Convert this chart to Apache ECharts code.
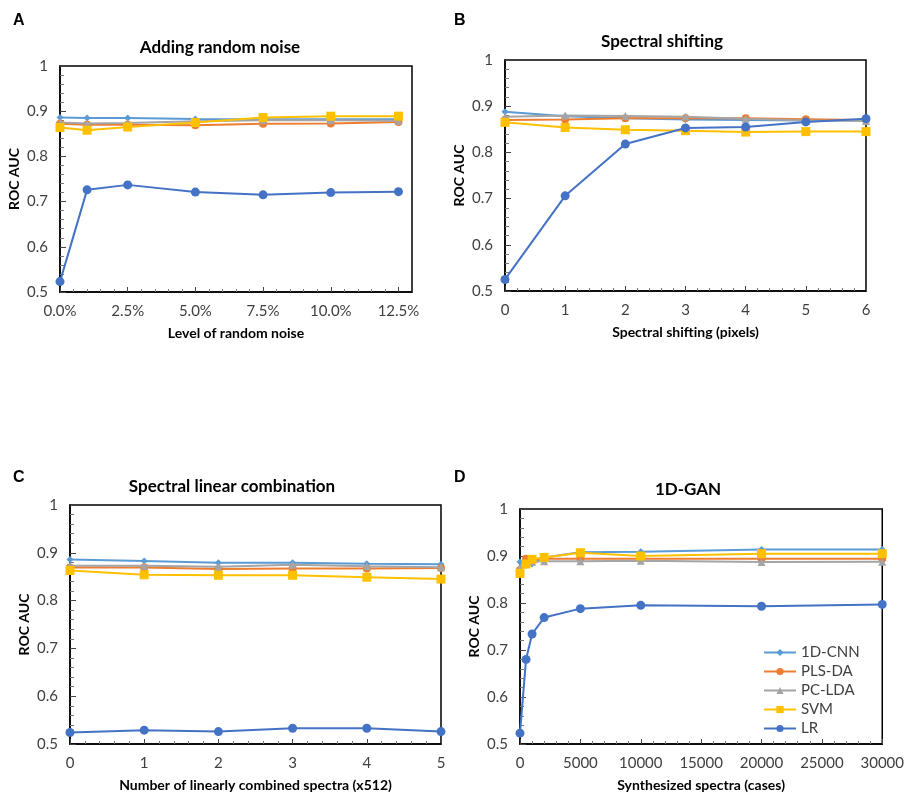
<!DOCTYPE html>
<html><head><meta charset="utf-8">
<script src="https://cdn.jsdelivr.net/npm/echarts@6/dist/echarts.min.js"></script>
<style>html,body{margin:0;padding:0;background:#fff}#c{width:907px;height:796px}</style>
</head><body><div id="c"></div>
<script>
const seriesNames = ['1D-CNN','PLS-DA','PC-LDA','SVM','LR'];
const colors = ['#5B9BD5','#ED7D31','#A5A5A5','#FFC000','#4472C4'];
const symbols = ['diamond','circle','triangle','rect','circle'];
const symbolSizes = [7,8,8,9,9];

// Panel A: adding random noise (x in %)
const A_x = [0,1,2.5,5,7.5,10,12.5];
const A_cnn = [0.886,0.885,0.885,0.883,0.882,0.882,0.882];
const A_pls = [0.872,0.870,0.870,0.869,0.872,0.873,0.876];
const A_pclda = [0.875,0.873,0.874,0.878,0.880,0.880,0.879];
const A_svm = [0.864,0.858,0.865,0.875,0.886,0.889,0.889];
const A_lr = [0.523,0.726,0.737,0.721,0.715,0.720,0.722];

// Panel B: spectral shifting (pixels)
const B_x = [0,1,2,3,4,5,6];
const B_cnn = [0.888,0.878,0.874,0.871,0.870,0.869,0.870];
const B_pls = [0.870,0.871,0.874,0.874,0.874,0.872,0.870];
const B_pclda = [0.877,0.880,0.879,0.877,0.873,0.869,0.868];
const B_svm = [0.865,0.854,0.849,0.847,0.844,0.845,0.845];
const B_lr = [0.525,0.706,0.818,0.853,0.855,0.866,0.873];

// Panel C: spectral linear combination
const C_x = [0,1,2,3,4,5];
const C_cnn = [0.886,0.883,0.879,0.879,0.877,0.876];
const C_pls = [0.869,0.869,0.866,0.867,0.867,0.868];
const C_pclda = [0.873,0.873,0.871,0.875,0.872,0.870];
const C_svm = [0.863,0.854,0.853,0.853,0.849,0.845];
const C_lr = [0.524,0.529,0.526,0.533,0.533,0.526];

// Panel D: 1D-GAN
const D_x = [0,500,1000,2000,5000,10000,20000,30000];
const D_cnn = [0.887,0.880,0.883,0.897,0.908,0.909,0.914,0.914];
const D_pls = [0.870,0.894,0.893,0.894,0.894,0.894,0.894,0.894];
const D_pclda = [0.875,0.885,0.888,0.889,0.889,0.890,0.887,0.888];
const D_svm = [0.863,0.883,0.893,0.897,0.907,0.900,0.905,0.905];
const D_lr = [0.523,0.680,0.734,0.769,0.788,0.795,0.793,0.797];

const panelTitles = ['Adding random noise','Spectral shifting','Spectral linear combination','1D-GAN'];
const xNames = ['Level of random noise','Spectral shifting (pixels)','Number of linearly combined spectra (x512)','Synthesized spectra (cases)'];
const yName = 'ROC AUC';
const panelLetters = ['A','B','C','D'];

const FONT = 'Lato';
const panels = [
  {x:A_x, ys:[A_cnn,A_pls,A_pclda,A_svm,A_lr], xmin:0, xmax:13, xint:2.5, grid:{left:60,top:66,width:352,height:226}, title:[220,39], fmt:v=> v>12.6?'':v.toFixed(1)+'%'},
  {x:B_x, ys:[B_cnn,B_pls,B_pclda,B_svm,B_lr], xmin:0, xmax:6, xint:1, grid:{left:505,top:60,width:361,height:231}, title:[662,33], fmt:v=>String(v)},
  {x:C_x, ys:[C_cnn,C_pls,C_pclda,C_svm,C_lr], xmin:0, xmax:5, xint:1, grid:{left:70,top:505,width:371,height:239}, title:[232,478], fmt:v=>String(v)},
  {x:D_x, ys:[D_cnn,D_pls,D_pclda,D_svm,D_lr], xmin:0, xmax:30000, xint:5000, grid:{left:520,top:509,width:367,height:235}, title:[688,481], fmt:v=>String(v)}
];

const grids=[], xAxes=[], yAxes=[], series=[], titles=[];
panels.forEach((p,i)=>{
  grids.push(Object.assign({show:true, borderColor:'#000', borderWidth:1.5, backgroundColor:'transparent'}, p.grid));
  xAxes.push({type:'value', gridIndex:i, min:p.xmin, max:p.xmax, interval:p.xint,
    name:xNames[i], nameLocation:'middle', nameGap:34,
    nameTextStyle:{fontFamily:FONT, fontWeight:'bold', fontSize:14, color:'#000'},
    axisLine:{show:true, lineStyle:{color:'#000', width:1.5}},
    axisTick:{show:true, inside:true, length:5, lineStyle:{color:'#444'}},
    minorTick:{show:true, splitNumber:5, length:3, lineStyle:{color:'#777'}},
    splitLine:{show:false},
    axisLabel:{fontFamily:FONT, fontSize:15, color:'#404040', margin:12, formatter:p.fmt}
  });
  yAxes.push({type:'value', gridIndex:i, min:0.5, max:1, interval:0.1,
    name:yName, nameLocation:'middle', nameGap:39,
    nameTextStyle:{fontFamily:FONT, fontWeight:'bold', fontSize:14, color:'#000'},
    axisLine:{show:true, lineStyle:{color:'#000', width:1.5}},
    axisTick:{show:true, inside:true, length:6, lineStyle:{color:'#444'}},
    minorTick:{show:true, splitNumber:5, length:4, lineStyle:{color:'#777'}},
    splitLine:{show:false},
    axisLabel:{fontFamily:FONT, fontSize:15, color:'#404040', margin:12, formatter:v=> v>=1?'1':v.toFixed(1)}
  });
  titles.push({text:panelTitles[i], left:p.title[0], top:p.title[1], textAlign:'center', padding:0,
    textStyle:{fontFamily:FONT, fontWeight:'bold', fontSize:17, color:'#000'}});
  p.ys.forEach((ys,k)=>{
    series.push({name:seriesNames[k], type:'line', xAxisIndex:i, yAxisIndex:i,
      data:p.x.map((xv,j)=>[xv, ys[j]]),
      symbol:symbols[k], symbolSize:symbolSizes[k], showAllSymbol:true,
      lineStyle:{color:colors[k], width:2}, itemStyle:{color:colors[k]},
      z:2+k, animation:false});
  });
});
const letterPos = [[13,13],[454,13],[13,470],[454,470]];
panelLetters.forEach((L,i)=>{
  titles.push({text:L, left:letterPos[i][0], top:letterPos[i][1], padding:0,
    textStyle:{fontFamily:'Liberation Sans', fontWeight:'bold', fontSize:16, color:'#000'}});
});

const chart = echarts.init(document.getElementById('c'), null, {renderer:'canvas'});
chart.setOption({
  animation:false,
  backgroundColor:'#fff',
  title:titles,
  grid:grids, xAxis:xAxes, yAxis:yAxes, series:series,
  legend:{data:seriesNames, orient:'vertical', left:758, top:640, itemWidth:32, itemHeight:9, itemGap:4,
    textStyle:{fontFamily:FONT, fontSize:15, color:'#404040'}, selectedMode:false}
});
</script></body></html>
